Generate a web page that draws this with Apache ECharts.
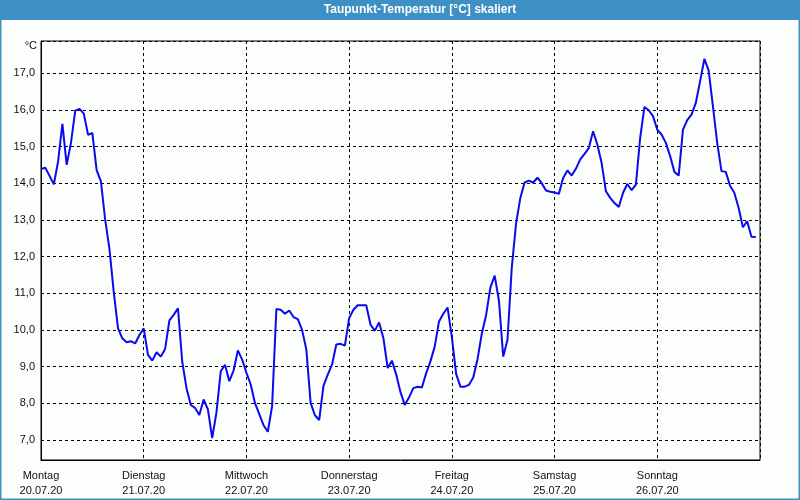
<!DOCTYPE html>
<html>
<head>
<meta charset="utf-8">
<script src="https://cdn.jsdelivr.net/npm/echarts@6/dist/echarts.min.js"></script>
<style>html,body{margin:0;padding:0;background:#fbfefb}#c{width:800px;height:500px}</style>
</head>
<body>
<div id="c"></div>
<script>
const dayNames = ['Montag','Dienstag','Mittwoch','Donnerstag','Freitag','Samstag','Sonntag'];
const dayDates = ['20.07.20','21.07.20','22.07.20','23.07.20','24.07.20','25.07.20','26.07.20'];
// hourly dew point values (°C), hour 0 = Montag 00:00
const dewPoint = [
 14.39,14.42,14.2,13.97,14.6,15.62,14.5,15.1,15.98,16.03,15.9,15.32,15.37,14.36,14.05,13.0,12.2,11.03,10.04,9.77,9.66,9.69,9.63,9.86,
 10.04,9.32,9.16,9.39,9.27,9.48,10.26,10.41,10.59,9.13,8.41,7.95,7.87,7.68,8.1,7.83,7.05,7.75,8.87,9.05,8.6,8.89,9.44,9.19,
 8.83,8.51,8.0,7.7,7.4,7.22,7.92,10.57,10.55,10.44,10.53,10.35,10.29,10.0,9.46,8.01,7.67,7.54,8.47,8.78,9.05,9.6,9.62,9.57,
 10.32,10.55,10.67,10.67,10.67,10.14,9.98,10.2,9.78,8.96,9.16,8.78,8.3,7.95,8.16,8.41,8.45,8.43,8.82,9.14,9.55,10.23,10.44,10.61,
 9.8,8.8,8.45,8.45,8.5,8.7,9.2,9.9,10.4,11.15,11.48,10.8,9.27,9.73,11.7,12.9,13.6,14.02,14.07,14.02,14.15,14.0,13.8,13.77,
 13.75,13.71,14.14,14.35,14.21,14.4,14.65,14.8,14.96,15.42,15.05,14.55,13.78,13.6,13.46,13.35,13.74,13.98,13.81,13.96,15.24,16.08,15.99,15.83,
 15.46,15.33,15.1,14.74,14.31,14.21,15.46,15.72,15.87,16.19,16.78,17.39,17.08,16.1,15.1,14.33,14.31,13.93,13.74,13.33,12.8,12.96,12.54,12.53
];
const seriesData = dewPoint.map((v, h) => [h, v]);

const chart = echarts.init(document.getElementById('c'), null, {renderer: 'canvas'});
const font = 'Liberation Sans';
chart.setOption({
  backgroundColor: '#fbfefb',
  animation: false,
  grid: {left: 41, right: 40, top: 41, bottom: 40, show: true, borderColor: '#000', borderWidth: 1, backgroundColor: 'transparent'},
  graphic: [
    {type: 'rect', shape: {x: 0, y: 0, width: 800, height: 20}, style: {fill: '#3d90c3'}, z: 0},
    {type: 'rect', shape: {x: 0.5, y: 0.5, width: 799, height: 499}, style: {fill: 'none', stroke: '#3d90c3', lineWidth: 2}, z: 0},
    {type: 'text', x: 420, y: 10, style: {text: 'Taupunkt-Temperatur [°C] skaliert', fill: '#fff', font: 'bold 12px "Liberation Sans"', textAlign: 'center', textVerticalAlign: 'middle'}, z: 10}
  ],
  xAxis: {
    type: 'value', min: 0, max: 168, interval: 24,
    axisLine: {show: true, lineStyle: {color: '#000'}},
    axisTick: {show: false},
    splitLine: {show: true, lineStyle: {color: '#000', type: [3, 3], width: 1}},
    axisLabel: {
      margin: 8, color: '#111', fontFamily: font, fontSize: 11, lineHeight: 15,
      showMaxLabel: false,
      formatter: v => { const i = Math.round(v / 24); return i < 7 ? dayNames[i] + '\n' + dayDates[i] : ''; }
    }
  },
  yAxis: {
    type: 'value', min: 6.45, max: 17.88, splitNumber: 11,
    name: '°C', nameLocation: 'end', nameGap: -5,
    nameTextStyle: {color: '#111', fontFamily: font, fontSize: 11, align: 'right', verticalAlign: 'middle', padding: [0, 4, 0, 0]},
    axisLine: {show: true, lineStyle: {color: '#000'}},
    axisTick: {show: false},
    splitLine: {show: true, lineStyle: {color: '#000', type: [3, 3], width: 1}},
    axisLabel: {
      margin: 6, color: '#111', fontFamily: font, fontSize: 11,
      showMinLabel: false, showMaxLabel: false,
      formatter: v => Math.abs(v - Math.round(v)) < 1e-6 ? v.toFixed(1).replace('.', ',') : ''
    }
  },
  series: [{
    type: 'line', data: seriesData, showSymbol: false, symbol: 'none',
    lineStyle: {color: '#0a0aee', width: 2}, z: 5
  }]
});
</script>
</body>
</html>
